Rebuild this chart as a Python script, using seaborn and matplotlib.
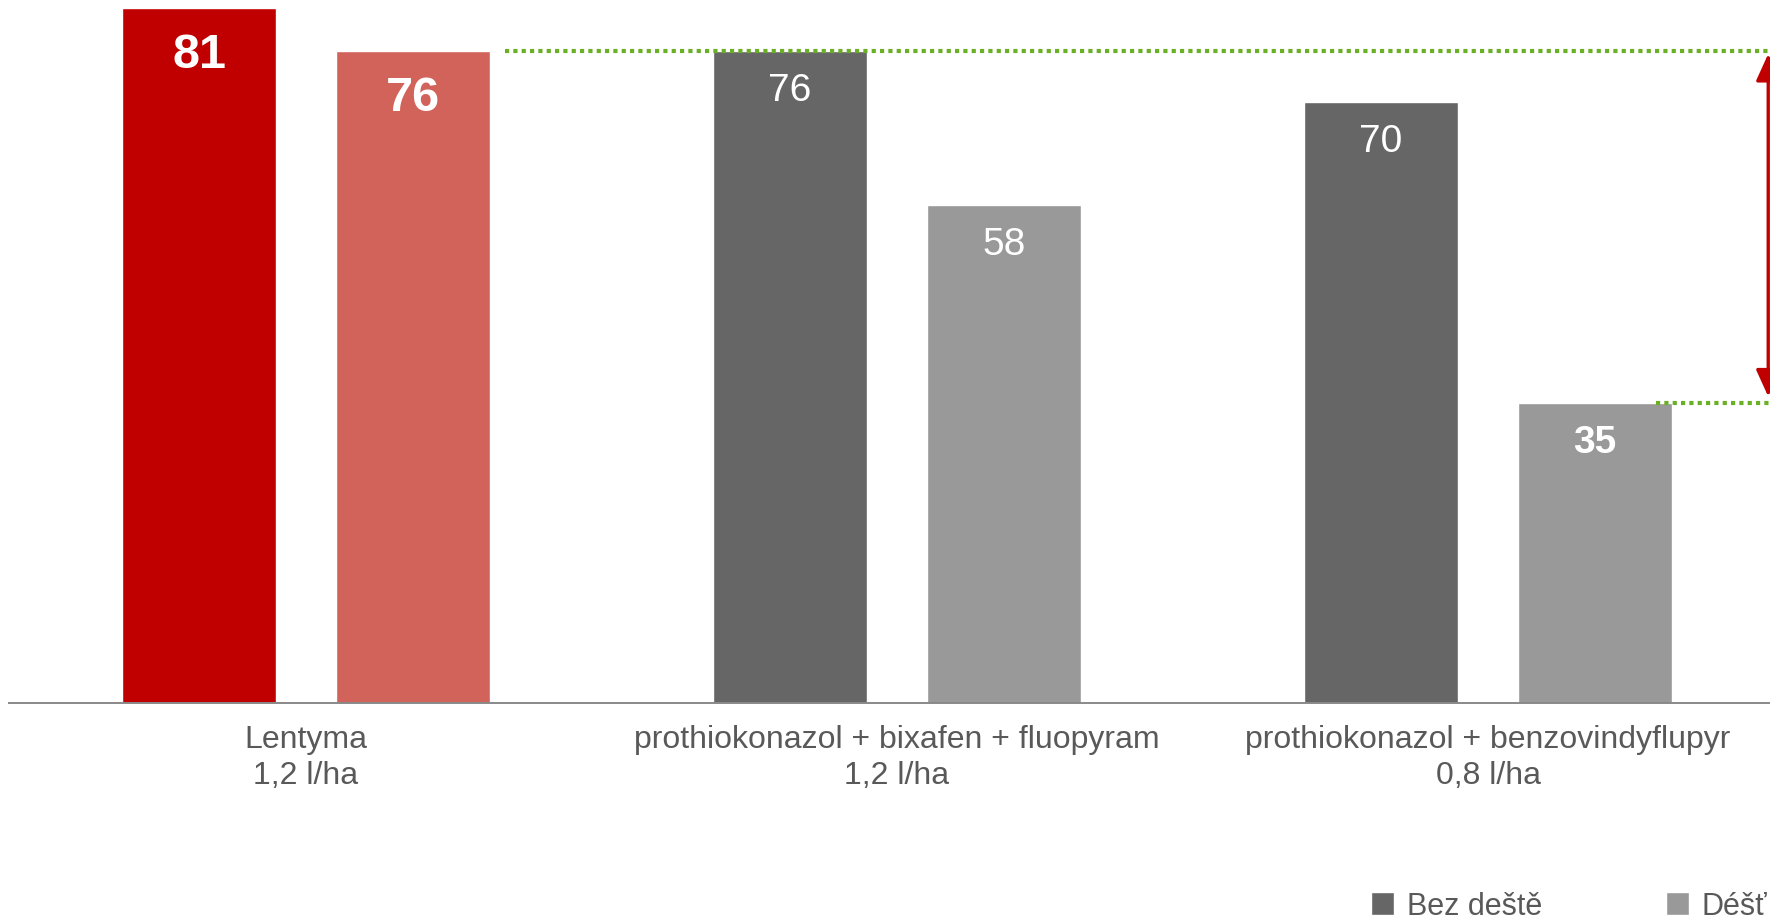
import matplotlib
matplotlib.use("Agg")
import matplotlib.pyplot as plt
import pandas as pd
import seaborn as sns

# values
categories = ["Lentyma\n1,2 l/ha",
              "prothiokonazol + bixafen + fluopyram\n1,2 l/ha",
              "prothiokonazol + benzovindyflupyr\n0,8 l/ha"]
conditions = ["Bez deště", "Déšť"]
bez_deste = [81, 76, 70]
dest = [76, 58, 35]
bold_labels = [[True, True], [False, False], [False, True]]

df = pd.DataFrame({
    "treatment": categories * 2,
    "condition": [conditions[0]] * 3 + [conditions[1]] * 3,
    "value": bez_deste + dest,
})

sns.set_style("white")
plt.rcParams["font.family"] = ["Liberation Sans", "DejaVu Sans"]

fig = plt.figure(figsize=(17.7, 9.2), dpi=100)
ax = fig.add_axes([9 / 1770, 1 - 704 / 920, 1 - 9 / 1770, 704 / 920])

sns.barplot(data=df, x="treatment", y="value", hue="condition", hue_order=conditions,
            order=categories, palette=["#666666", "#999999"], width=0.724, gap=0.28,
            saturation=1, ax=ax, legend=True)

# Lentyma bars in red
ax.containers[0][0].set_facecolor("#c00000")
ax.containers[1][0].set_facecolor("#d2635a")

# value labels inside the bars
for h, cont in enumerate(ax.containers):
    for i, bar in enumerate(cont):
        val = bar.get_height()
        big = i == 0
        ax.annotate(f"{val:.0f}", (bar.get_x() + bar.get_width() / 2, val),
                    xytext=(0, -(59 if big else 49) * 0.72), textcoords="offset points",
                    ha="center", va="baseline", color="white",
                    fontsize=35 if big else 28,
                    fontweight="bold" if bold_labels[i][h] else "normal")

ax.set_xlim(-0.5025, 2.477)
ax.set_ylim(0, 82.0)
ax.set_xlabel("")
ax.set_ylabel("")
ax.set_yticks([])
for s in ["top", "right", "left"]:
    ax.spines[s].set_visible(False)
ax.spines["bottom"].set_color("#898989")
ax.spines["bottom"].set_linewidth(1.4)
ax.tick_params(axis="x", length=0, pad=15, labelsize=23, labelcolor="#595959")
for t in ax.get_xticklabels():
    t.set_linespacing(1.27)

# green dotted reference lines
green = "#6aaf24"
ax.plot([0.336, 2.477], [76, 76], color=green, lw=3, ls=(0, (1, 1)),
        dash_capstyle="butt", clip_on=False, zorder=5)
ax.plot([2.284, 2.477], [35, 35], color=green, lw=3, ls=(0, (1, 1)),
        dash_capstyle="butt", clip_on=False, zorder=5)

# red double arrow
ax.annotate("", xy=(2.474, 75.6), xytext=(2.474, 35.7),
            arrowprops=dict(arrowstyle="<|-|>,head_length=1.65,head_width=0.75",
                            mutation_scale=10, color="#c00000", lw=2.4,
                            shrinkA=0, shrinkB=0), annotation_clip=False)

handles, labels = ax.get_legend_handles_labels()
ax.get_legend().remove()
fig.legend(handles, labels, loc="lower left", bbox_to_anchor=(1371 / 1770, -2 / 920),
           ncol=2, frameon=False, fontsize=22, labelcolor="#595959",
           handlelength=0.75, handleheight=0.75, handletextpad=0.42,
           columnspacing=4.05, borderpad=0, borderaxespad=0)

fig.savefig("out.png", dpi=100)
